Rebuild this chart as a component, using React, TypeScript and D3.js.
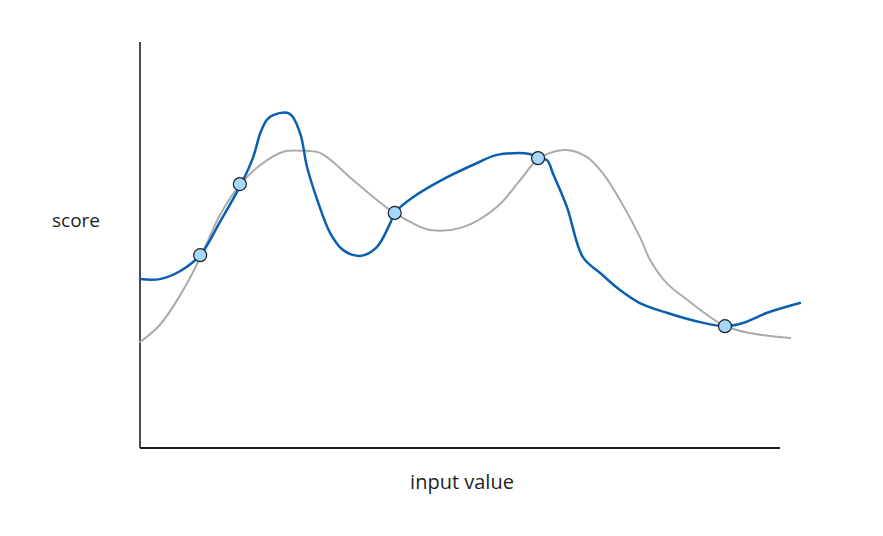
import React from "react";
import * as d3 from "d3";

const grayX = [0, 3.1, 6.3, 9.4, 12.5, 15.6, 18.8, 22.3, 25.5, 28.1, 30.2, 32.8, 39.1, 42.2, 45.3, 50.5, 55.8, 59.4, 62.0, 64.5, 66.7, 69.8, 72.3, 75.0, 78.1, 79.7, 82.3, 85.5, 91.1, 95.3, 101.6];
const grayY = [26.1, 30.3, 37.7, 46.8, 57.4, 64.8, 69.7, 72.9, 73.2, 72.7, 70.4, 66.7, 58.6, 55.7, 53.7, 54.4, 59.4, 66.0, 70.9, 72.9, 73.4, 71.7, 67.7, 61.1, 52.0, 46.3, 40.6, 36.5, 30.3, 28.3, 27.1];

const blueX = [0, 3.1, 6.3, 9.4, 12.5, 15.9, 17.7, 18.8, 19.8, 20.8, 23.4, 25.0, 26.1, 27.7, 29.7, 31.7, 34.4, 37.0, 39.1, 39.8, 42.7, 48.0, 52.7, 55.8, 60.9, 62.2, 63.6, 64.5, 66.7, 69.2, 71.9, 75.0, 78.1, 82.3, 87.5, 91.4, 94.2, 98.0, 103.1];
const blueY = [41.6, 41.6, 43.6, 47.5, 55.7, 65.3, 71.7, 77.6, 80.8, 82.0, 82.3, 77.6, 69.2, 61.1, 53.0, 48.8, 47.3, 49.5, 55.4, 57.9, 61.8, 66.7, 70.2, 72.2, 72.4, 71.4, 70.9, 67.7, 59.4, 47.0, 43.1, 38.9, 35.7, 33.3, 31.0, 30.0, 30.8, 33.3, 35.7];

const sampleX = [9.4, 15.6, 39.8, 62.2, 91.4];
const sampleY = [47.5, 65.0, 57.9, 71.4, 30.0];

const xLabel = "input value";
const yLabel = "score";

export default function App() {
  const W = 883, H = 536;
  const x = d3.scaleLinear().domain([0, 100]).range([140, 780]);
  const y = d3.scaleLinear().domain([0, 100]).range([448, 42]);
  const line = d3
    .line<[number, number]>()
    .x((d) => x(d[0]))
    .y((d) => y(d[1]))
    .curve(d3.curveCatmullRom.alpha(0.5));
  const gray = grayX.map((v, i) => [v, grayY[i]] as [number, number]);
  const blue = blueX.map((v, i) => [v, blueY[i]] as [number, number]);
  const font = "'Comic Sans MS', 'Open Sans', Lato, sans-serif";
  return (
    <svg
      width={W}
      height={H}
      style={{ position: "absolute", left: 0, top: 0, background: "#fff" }}
    >
      <line x1={x(0)} y1={y(100)} x2={x(0)} y2={y(0)} stroke="#1e1e1e" strokeWidth={1.6} />
      <line x1={x(0)} y1={y(0)} x2={x(100)} y2={y(0)} stroke="#1e1e1e" strokeWidth={1.8} />
      <path d={line(gray) || ""} fill="none" stroke="#ababab" strokeWidth={2} strokeLinecap="round" />
      <path d={line(blue) || ""} fill="none" stroke="#0b5fb0" strokeWidth={2.5} strokeLinecap="round" />
      {sampleX.map((v, i) => (
        <circle
          key={i}
          cx={x(v)}
          cy={y(sampleY[i])}
          r={6.5}
          fill="#a5d8ff"
          stroke="#1e1e1e"
          strokeWidth={1.2}
        />
      ))}
      <text x={76} y={222} textAnchor="middle" dominantBaseline="middle" fontFamily={font} fontSize={19} fill="#1e1e1e">
        {yLabel}
      </text>
      <text x={462} y={484} textAnchor="middle" dominantBaseline="middle" fontFamily={font} fontSize={20} fill="#1e1e1e">
        {xLabel}
      </text>
    </svg>
  );
}
